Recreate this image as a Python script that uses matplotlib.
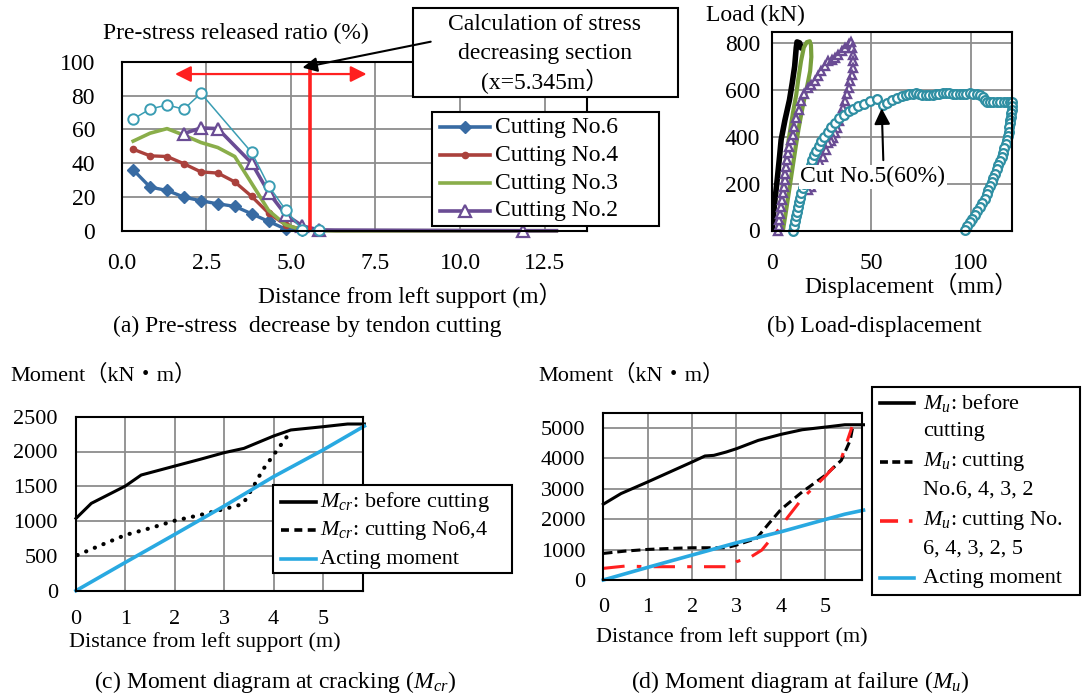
import matplotlib
matplotlib.use('Agg')
import matplotlib.pyplot as plt
from matplotlib.lines import Line2D
from matplotlib.patches import Rectangle, ConnectionPatch

plt.rcParams['font.family'] = ['Liberation Serif', 'Noto Sans CJK JP', 'DejaVu Sans']
plt.rcParams['mathtext.fontset'] = 'custom'
plt.rcParams['mathtext.rm'] = 'Liberation Serif'
plt.rcParams['mathtext.it'] = 'Liberation Serif:italic'

# ---------------- data: panel (a) ----------------
xa = [0.345, 0.845, 1.345, 1.845, 2.345, 2.845, 3.345, 3.845, 4.345, 4.845, 5.345, 5.845,
      6.345, 6.845, 7.345, 7.845, 8.345, 8.845, 9.345, 9.845, 10.345, 10.845, 11.345, 11.845, 12.345, 12.845]
cut6 = [36.0, 25.8, 23.8, 19.9, 17.7, 15.9, 14.4, 10.0, 5.5, 1.0, 0.3, 0.2,
        0, 0, 0, 0, 0, 0, 0, 0, 0, 0, 0, 0, 0, 0]
cut4 = [48.2, 44.3, 43.9, 39.6, 34.8, 34.1, 28.9, 20.3, 10.4, 3.5, 0.5, 0.2,
        0, 0, 0, 0, 0, 0, 0, 0, 0, 0, 0, 0, 0, 0]
cut3 = [53.0, 57.7, 60.4, 56.5, 52.2, 49.2, 43.9, 28.0, 12.0, 3.5, 0.5, 0.0,
        0, 0, 0, 0, 0, 0, 0, 0, 0, 0, 0, 0, 0, 0]
x_cut2 = [1.845, 2.345, 2.845, 3.845, 4.345, 4.845, 5.345, 5.845, 11.845, 12.845]
cut2 = [57.5, 60.8, 60.4, 40.0, 22.6, 9.5, 2.8, 0.4, 0.0, 0.0]
x_cut5 = [0.345, 0.845, 1.345, 1.845, 2.345, 3.845, 4.345, 4.845, 5.345, 5.845]
cut5 = [66.1, 72.0, 74.4, 71.9, 81.3, 46.3, 26.6, 12.4, 0.4, 0.4]
section_x = 5.345          # calculation section (arrow target)
section_arrow_y = 96.5
red_line_x = 5.57
red_line_top = 96
red_arrow = (1.58, 7.24, 92.7)
a_xticks = [0, 2.5, 5.0, 7.5, 10.0, 12.5]
a_yticks = [0, 20, 40, 60, 80, 100]

# ---------------- data: panel (b) ----------------
blk_x = [0, 1.3, 2.6, 3.8, 4.6, 6.5, 8.8, 10.2, 11.4, 12.2, 12.6, 13.9, 14.7]
blk_y = [0, 116, 215, 315, 387, 470, 557, 630, 700, 780, 804, 800, 778]
grn_x = [2.5, 3.5, 4.5, 5.5, 6.5, 7.6, 8.8, 10.5, 12.2, 13.3, 14.6, 16.0, 17.5, 19.0,
         19.6, 19.8, 19.2, 17.8, 16.2, 14.8, 13.3, 11.8, 10.2, 8.6, 7.0, 5.5]
grn_y = [0, 60, 130, 200, 270, 340, 409, 500, 579, 650, 722, 780, 803, 807,
         790, 740, 680, 620, 560, 500, 430, 350, 260, 170, 80, 0]
pur_x = [3.0, 3.3, 3.7, 4.1, 4.5, 4.9, 5.4, 5.8, 6.3, 6.7, 7.1, 7.5, 7.9, 8.7, 9.6, 10.4, 11.3, 12.2,
         13.4, 14.7, 16.3, 18.1, 19.8, 21.5, 23.2, 24.9, 26.6, 28.3, 30.0, 31.7, 33.4, 35.0, 36.8,
         38.5, 39.6, 40.1, 40.6, 41.0, 40.6, 40.1, 39.3, 38.5, 37.6, 36.8, 35.9, 35.0, 33.8, 32.5,
         31.7, 30.8, 29.6, 28.3, 27.0, 25.7, 24.4, 23.2, 21.9, 20.7, 19.4, 18.1]
pur_y = [0, 20, 43, 72, 101, 130, 159, 187, 215, 243, 272, 300, 329, 357, 386, 409, 440, 480,
         515, 551, 580, 608, 622, 636, 658, 679, 700, 722, 729, 736, 750, 764, 780,
         795, 804, 778, 750, 722, 693, 664, 636, 608, 580, 551, 522, 494, 465, 437,
         415, 394, 383, 372, 343, 315, 286, 258, 230, 201, 187, 173]
cyn_x = [10.5, 11.0, 11.4, 11.9, 12.4, 12.9, 13.4, 13.9, 14.6, 15.4, 16.2, 17.0, 17.8, 18.6, 19.4,
         20.3, 21.2, 22.3, 23.5, 24.9, 26.4, 28.0, 29.7, 31.6, 33.7, 36.0, 38.5, 41.0, 43.5, 46.2,
         49.2, 52.8, 55.7, 57.9, 60.5, 63.0, 65.6, 67.3, 69.0, 70.7, 72.4, 74.0, 75.7, 77.4, 79.1,
         80.9, 82.6, 84.2, 85.9, 87.6, 89.3, 91.0, 92.7, 94.4, 96.1, 97.8, 99.5, 101.2, 102.9,
         104.6, 106.3, 107.2, 108.0, 109.7, 111.3, 113.0, 114.8, 116.5, 118.2, 119.5, 120.7,
         120.9, 120.7, 120.4, 120.2, 119.8, 119.6, 119.3, 119.0, 118.6, 118.2, 117.5, 116.8,
         116.2, 115.6, 114.8, 113.9, 113.1, 112.2, 111.4, 110.5, 109.7, 108.8, 108.0, 107.1,
         105.9, 104.6, 103.3, 102.0, 100.8, 99.5, 98.2, 97.0]
cyn_y = [0, 20, 40, 60, 80, 100, 120, 140, 160, 180, 200, 220, 240, 260, 280,
         300, 320, 340, 360, 380, 400, 420, 440, 460, 478, 494, 508, 520, 530, 540,
         550, 560, 533, 543, 557, 564, 574, 578, 581, 584, 586, 583, 579, 577, 576,
         578, 581, 584, 586, 587, 586, 583, 581, 581, 581, 584, 586, 584, 581,
         577, 571, 558, 547, 547, 547, 547, 547, 547, 547, 547, 547,
         530, 514, 500, 486, 471, 457, 440, 421, 404, 386, 368, 350,
         332, 314, 297, 279, 261, 243, 225, 207, 189, 171, 154, 136,
         118, 100, 82, 64, 50, 36, 20, 4]
cut5_label_pos = (50.8, 229)
cut5_arrow = (56.0, 300, 55.2, 521)
b_xticks = [0, 50, 100]
b_yticks = [0, 200, 400, 600, 800]

# ---------------- data: panel (c) ----------------
c_bx = [0, 0.31, 1.0, 1.32, 2.0, 2.51, 3.0, 3.4, 4.0, 4.35, 5.0, 5.5, 5.84]
c_by = [1039, 1255, 1504, 1662, 1791, 1887, 1983, 2045, 2222, 2309, 2356, 2395, 2395]
c_cx = [0.03, 0.51, 1.0, 1.49, 2.0, 2.51, 3.0, 3.38, 3.61, 3.78, 4.0, 4.28]
c_cy = [512, 656, 800, 896, 1006, 1087, 1173, 1245, 1518, 1734, 1949, 2222]
c_ax = [0, 1, 2, 3, 4, 5, 5.84]
c_ay = [0, 407, 809, 1216, 1638, 2021, 2366]

# ---------------- data: panel (d) ----------------
d_bx = [0, 0.4, 1.0, 1.5, 2.0, 2.29, 2.49, 2.77, 3.0, 3.49, 4.0, 4.48, 5.0, 5.44, 5.86]
d_by = [2492, 2842, 3224, 3552, 3880, 4077, 4098, 4208, 4317, 4590, 4787, 4940, 5027, 5104, 5104]
d_cx = [0, 0.5, 1.0, 1.5, 2.0, 2.77, 3.0, 3.45, 3.73, 4.0, 4.48, 5.0, 5.36, 5.56, 5.61]
d_cy = [874, 951, 1005, 1038, 1060, 1060, 1148, 1366, 1858, 2317, 2896, 3443, 3934, 4590, 4973]
d_rx = [0, 0.5, 1.0, 2.85, 3.0, 3.33, 3.57, 4.0, 4.16, 4.48, 5.0, 5.36, 5.6]
d_ry = [383, 459, 437, 437, 601, 765, 984, 1749, 2077, 2678, 3410, 3989, 5027]
d_ax = [0, 1, 2, 3, 4, 5, 5.44, 5.86]
d_ay = [0, 415, 820, 1224, 1585, 1989, 2164, 2295]

# ---------------- figure ----------------
W, H = 1085, 696
fig = plt.figure(figsize=(W / 100, H / 100), dpi=100)
fig.patch.set_facecolor('white')


def fx(x):
    return x / W


def fy(y):
    return 1 - y / H


def add_ax(l, t, r, b):
    return fig.add_axes([l / W, 1 - b / H, (r - l) / W, (b - t) / H])


def style(ax, xpad, ypad, fs):
    ax.grid(True, color='#8c8c8c', lw=1.3)
    ax.set_axisbelow(True)
    for s in ax.spines.values():
        s.set_color('black')
        s.set_linewidth(1.5)
    ax.tick_params(length=0, labelsize=fs)
    ax.tick_params(axis='x', pad=xpad)
    ax.tick_params(axis='y', pad=ypad)


def ftext(x, y, s, fs, ha='center', va='center', **kw):
    fig.text(fx(x), fy(y), s, fontsize=fs, ha=ha, va=va, **kw)


def fbox(l, t, r, b, lw=1.5):
    fig.add_artist(Rectangle((fx(l), fy(b)), (r - l) / W, (b - t) / H, transform=fig.transFigure,
                             facecolor='white', edgecolor='black', lw=lw, zorder=5))


def fhandle(x0, x1, y, **kw):
    fig.add_artist(Line2D([fx(x0), fx(x1)], [fy(y), fy(y)], transform=fig.transFigure, zorder=6, **kw))


def fmarker(x, y, **kw):
    fig.add_artist(Line2D([fx(x)], [fy(y)], transform=fig.transFigure, zorder=7, **kw))


FS = 17
BLUE = '#386ba3'
RED = '#aa413c'
GREEN = '#8aae4a'
PURPLE = '#6a4c94'
CYAN = '#3a9db3'

# ---------------- panel (a) ----------------
axa = add_ax(121.5, 61.7, 587, 230.7)
style(axa, 16, 19, FS)
axa.set_xlim(0, 13.75)
axa.set_ylim(0, 100)
axa.set_xticks(a_xticks)
axa.set_xticklabels([f'{v:.1f}' for v in a_xticks])
axa.set_yticks(a_yticks)
axa.plot(xa, cut6, color=BLUE, lw=2.4, marker='D', ms=6.5, markevery=list(range(12)), clip_on=False)
axa.plot(xa, cut4, color=RED, lw=2.4, marker='o', ms=4.5, markevery=list(range(12)), clip_on=False)
axa.plot(xa, cut3, color=GREEN, lw=2.6, clip_on=False)
axa.plot(x_cut2, cut2, color=PURPLE, lw=2.6, marker='^', ms=9, mfc='white', mew=1.6,
         markevery=list(range(len(x_cut2) - 1)), clip_on=False)
axa.plot(x_cut5, cut5, color=CYAN, lw=1.1, marker='o', ms=7.5, mfc='white', mew=1.4, clip_on=False)
axa.plot([red_line_x, red_line_x], [0, red_line_top], color='#ff2020', lw=2.6)
axa.annotate('', xy=(red_arrow[0], red_arrow[2]), xytext=(red_arrow[1], red_arrow[2]),
             arrowprops=dict(arrowstyle='<|-|>', color='#ff2020', lw=1.6, mutation_scale=24,
                             shrinkA=0, shrinkB=0))

ftext(235.7, 33, 'Pre-stress released ratio (%)', FS)
ftext(409.6, 295, 'Distance from left support (m）', FS)
ftext(307, 326.7, '(a) Pre-stress  decrease by tendon cutting', FS)

# annotation box
fbox(412.7, 8.3, 678.3, 96.7)
ftext(545, 25, 'Calculation of stress', FS, zorder=6)
ftext(545, 53.3, 'decreasing section', FS, zorder=6)
ftext(545, 81.7, '(x=5.345m）', FS, zorder=6)
con = ConnectionPatch(xyA=(fx(430.7), fy(41.7)), coordsA=fig.transFigure,
                      xyB=(section_x, section_arrow_y), coordsB=axa.transData,
                      arrowstyle='-|>', mutation_scale=22, lw=1.5, color='black', zorder=8,
                      shrinkA=0, shrinkB=0)
fig.add_artist(con)

# legend (a)
fbox(432, 111.7, 659, 226)
leg_a = [('Cutting No.6', BLUE, dict(marker='D', ms=6.5, color=BLUE)),
         ('Cutting No.4', RED, dict(marker='o', ms=4.5, color=RED)),
         ('Cutting No.3', GREEN, None),
         ('Cutting No.2', PURPLE, dict(marker='^', ms=9, mfc='white', mew=1.6, color=PURPLE))]
for i, (lab, col, mk) in enumerate(leg_a):
    yy = [127, 155, 183, 211][i]
    fhandle(440, 490, yy, color=col, lw=2.6)
    if mk:
        fmarker(465, yy, ls='none', **mk)
    ftext(495, yy, lab, FS, ha='left', zorder=7)

# ---------------- panel (b) ----------------
axb = add_ax(772, 32.3, 1012.5, 230.5)
style(axb, 16, 8.5, FS)
axb.set_xlim(0, 121)
axb.set_ylim(0, 845)
axb.set_xticks(b_xticks)
axb.set_yticks(b_yticks)
axb.plot(blk_x, blk_y, color='black', lw=4.0, solid_capstyle='round')
axb.plot(grn_x, grn_y, color='#789f3c', lw=3.0)
axb.plot(pur_x, pur_y, color=PURPLE, lw=1.5, marker='^', ms=6, mfc='white', mew=1.7, ls='none',
         clip_on=False)
axb.plot(cyn_x, cyn_y, color='#2f8fa3', lw=1.5, marker='o', ms=6.3, mfc='white', mew=1.6, ls='none',
         clip_on=False)
axb.text(cut5_label_pos[0], cut5_label_pos[1], 'Cut No.5(60%)', fontsize=FS, ha='center', va='center',
         zorder=6, bbox=dict(facecolor='white', edgecolor='none', pad=1.0))
axb.annotate('', xy=(cut5_arrow[2], cut5_arrow[3]), xytext=(cut5_arrow[0], cut5_arrow[1]),
             arrowprops=dict(arrowstyle='-|>', color='black', lw=1.5, mutation_scale=24,
                             shrinkA=0, shrinkB=0), zorder=7)
ftext(755, 15, 'Load (kN)', FS)
ftext(911.7, 285, 'Displacement（mm）', FS)
ftext(874, 326.7, '(b) Load-displacement', FS)

# ---------------- panel (c) ----------------
FS2 = 16
axc = add_ax(76, 416.7, 363.4, 590.7)
style(axc, 14, 13, FS2)
axc.set_xlim(0, 5.82)
axc.set_ylim(0, 2500)
axc.set_xticks([0, 1, 2, 3, 4, 5])
axc.set_yticks([0, 500, 1000, 1500, 2000, 2500])
axc.plot(c_bx, c_by, color='black', lw=2.2, clip_on=False)
axc.plot(c_cx, c_cy, color='black', lw=3.0, ls=(0, (0.05, 2.2)), dash_capstyle='round', clip_on=False)
axc.plot(c_ax, c_ay, color='#29a9e1', lw=2.6, clip_on=False)
ftext(10, 375, 'Moment（kN・m）', FS2, ha='left')
ftext(205, 641.7, 'Distance from left support (m)', FS2)
ftext(275.5, 681.7, r'(c) Moment diagram at cracking ($M_{cr}$)', 17)

fbox(273.2, 485, 512.2, 572.7)
fhandle(280.6, 316, 501.7, color='black', lw=2.6)
fhandle(280.6, 316, 530, color='black', lw=2.6, ls=(0, (2.2, 1.5)))
fhandle(280.6, 316, 559.3, color='#29a9e1', lw=2.6)
ftext(319.5, 501.7, r'$M_{cr}$: before cutting', FS2, ha='left', zorder=7)
ftext(319.5, 530, r'$M_{cr}$: cutting No6,4', FS2, ha='left', zorder=7)
ftext(319.5, 559.3, 'Acting moment', FS2, ha='left', zorder=7)

# ---------------- panel (d) ----------------
axd = add_ax(603.3, 412.7, 861.7, 580)
style(axd, 13, 13, FS2)
axd.set_xlim(0, 5.82)
axd.set_ylim(0, 5500)
axd.set_xticks([0, 1, 2, 3, 4, 5])
axd.set_yticks([0, 1000, 2000, 3000, 4000, 5000])
axd.plot(d_bx, d_by, color='black', lw=2.2, clip_on=False)
axd.plot(d_cx, d_cy, color='black', lw=2.2, ls=(0, (3, 1.6)), clip_on=False)
axd.plot(d_rx, d_ry, color='#ff2020', lw=2.2, ls=(0, (7, 4, 1.5, 4)), clip_on=False)
axd.plot(d_ax, d_ay, color='#29a9e1', lw=2.6, clip_on=False)
ftext(538.8, 375, 'Moment（kN・m）', FS2, ha='left')
ftext(731.8, 636.7, 'Distance from left support (m)', FS2)
ftext(800, 681.7, r'(d) Moment diagram at failure ($M_u$)', 17)

fbox(871.6, 387.3, 1080.4, 595)
fhandle(880.4, 914, 403.3, color='black', lw=2.6)
fhandle(880.4, 914, 461.7, color='black', lw=2.6, ls=(0, (2.2, 1.2)))
fhandle(880.4, 914, 521, color='#ff2020', lw=2.6, ls=(0, (5, 3, 1, 3)))
fhandle(880.4, 914, 578.3, color='#29a9e1', lw=2.6)
for yy, s in [(403.3, r'$M_u$: before'), (431.7, 'cutting'), (461.7, r'$M_u$: cutting'),
              (490, 'No.6, 4, 3, 2'), (521, r'$M_u$: cutting No.'), (549.3, '6, 4, 3, 2, 5'),
              (578.3, 'Acting moment')]:
    ftext(922.9, yy, s, FS2, ha='left', zorder=7)

fig.savefig('out.png', dpi=100, facecolor='white')
